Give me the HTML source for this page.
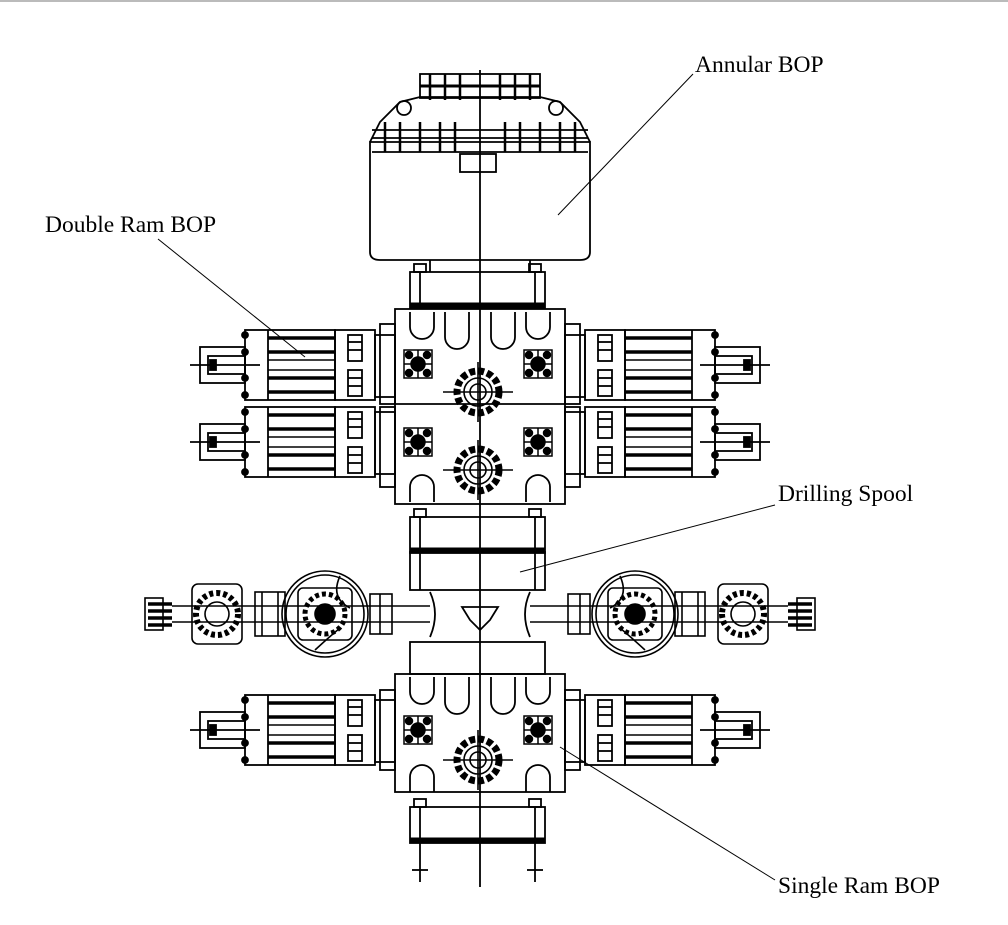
<!DOCTYPE html>
<html><head><style>
html,body{margin:0;padding:0;background:#fff;}
body{width:1008px;height:923px;overflow:hidden;position:relative;border-top:2px solid #bbb;box-sizing:border-box;}
svg{position:absolute;left:0;top:0;}
.t{font-family:"Liberation Serif",serif;font-size:23.5px;fill:#000;}
</style></head><body>
<svg width="1008" height="923" viewBox="0 0 1008 923">
<defs>
<g id="cyl" fill="none" stroke="#000" stroke-width="1.8">
  <rect x="245" y="0" width="90" height="70"/>
  <line x1="268" y1="0" x2="268" y2="70"/>
  <line x1="268" y1="8" x2="335" y2="8" stroke-width="3.5"/>
  <line x1="268" y1="22" x2="335" y2="22" stroke-width="3.5"/>
  <line x1="268" y1="30" x2="335" y2="30" stroke-width="1.5"/>
  <line x1="268" y1="40" x2="335" y2="40" stroke-width="1.5"/>
  <line x1="268" y1="48" x2="335" y2="48" stroke-width="3.5"/>
  <line x1="268" y1="62" x2="335" y2="62" stroke-width="3.5"/>
  <rect x="200" y="17" width="45" height="36"/>
  <rect x="208" y="26" width="37" height="18"/>
  <rect x="210" y="30" width="6" height="10" fill="#000"/>
  <line x1="190" y1="35" x2="260" y2="35"/>
  <rect x="335" y="0" width="40" height="70"/>
  <rect x="348" y="5" width="14" height="26"/>
  <rect x="348" y="40" width="14" height="26"/>
  <line x1="348" y1="12" x2="362" y2="12"/><line x1="348" y1="20" x2="362" y2="20"/>
  <line x1="348" y1="48" x2="362" y2="48"/><line x1="348" y1="56" x2="362" y2="56"/>
  <rect x="375" y="5" width="20" height="62"/>
  <circle cx="245" cy="5" r="3" fill="#000"/><circle cx="245" cy="22" r="3" fill="#000"/>
  <circle cx="245" cy="48" r="3" fill="#000"/><circle cx="245" cy="65" r="3" fill="#000"/>
</g>
<g id="nut" fill="none" stroke="#000" stroke-width="1.5">
  <rect x="-14" y="-14" width="28" height="28"/>
  <circle r="7" fill="#000"/>
  <line x1="-14" y1="0" x2="14" y2="0"/><line x1="0" y1="-14" x2="0" y2="14"/>
  <circle cx="-9" cy="-9" r="3.5" fill="#000"/><circle cx="9" cy="-9" r="3.5" fill="#000"/>
  <circle cx="-9" cy="9" r="3.5" fill="#000"/><circle cx="9" cy="9" r="3.5" fill="#000"/>
</g>
<g id="bore" fill="none" stroke="#000" stroke-width="1.6">
  <circle r="21" stroke-width="7" stroke-dasharray="6 3"/>
  <circle r="14"/><circle r="8"/>
  <line x1="-35" y1="0" x2="35" y2="0"/><line x1="0" y1="-30" x2="0" y2="30"/>
</g>
<g id="flange" fill="none" stroke="#000" stroke-width="1.8">
  <rect x="410" y="0" width="135" height="36"/>
  <line x1="410" y1="33" x2="545" y2="33" stroke-width="5"/>
  <line x1="420" y1="0" x2="420" y2="36"/><line x1="535" y1="0" x2="535" y2="36"/>
  <rect x="414" y="-8" width="12" height="8"/><rect x="529" y="-8" width="12" height="8"/>
</g>
<g id="side" fill="none" stroke="#000" stroke-width="1.6">
  <rect x="145" y="0" width="18" height="32"/>
  <line x1="148" y1="6" x2="172" y2="6" stroke-width="3.5"/><line x1="148" y1="13" x2="172" y2="13" stroke-width="3.5"/>
  <line x1="148" y1="20" x2="172" y2="20" stroke-width="3.5"/><line x1="148" y1="27" x2="172" y2="27" stroke-width="3.5"/>
  <rect x="192" y="-14" width="50" height="60" rx="6"/>
  <circle cx="217" cy="16" r="21" stroke-width="6" stroke-dasharray="4 3"/>
  <circle cx="217" cy="16" r="12"/>
  <line x1="172" y1="8" x2="430" y2="8"/><line x1="172" y1="24" x2="430" y2="24"/>
  <rect x="255" y="-6" width="30" height="44"/>
  <line x1="262" y1="-6" x2="262" y2="38"/><line x1="278" y1="-6" x2="278" y2="38"/>
  <circle cx="325" cy="16" r="43"/><circle cx="325" cy="16" r="39"/>
  <rect x="298" y="-10" width="54" height="52" rx="5"/>
  <circle cx="325" cy="16" r="20" stroke-width="5" stroke-dasharray="4 3"/>
  <circle cx="325" cy="16" r="10" fill="#000"/>
  <path d="M340 -22 Q330 0 350 10 M315 52 Q328 40 340 30"/>
  <rect x="370" y="-4" width="22" height="40"/>
  <line x1="380" y1="-4" x2="380" y2="36"/>
</g>
</defs>

<g fill="none" stroke="#000" stroke-width="1.8">
  <path d="M370 140 L370 250 Q370 258 380 258 L580 258 Q590 258 590 250 L590 140 Z"/>
  <path d="M370 140 L380 120 L400 100 L420 95 L540 95 L560 100 L580 120 L590 140"/>
  <line x1="372" y1="128" x2="588" y2="128"/>
  <line x1="372" y1="136" x2="588" y2="136"/>
  <line x1="372" y1="150" x2="588" y2="150"/>
  <rect x="420" y="72" width="120" height="24"/>
  <line x1="420" y1="84" x2="540" y2="84" stroke-width="3"/>
  <rect x="460" y="152" width="36" height="18"/>
  <circle cx="404" cy="106" r="7"/><circle cx="556" cy="106" r="7"/>
  <g stroke-width="2.5">
    <line x1="430" y1="72" x2="430" y2="98"/><line x1="445" y1="72" x2="445" y2="98"/><line x1="460" y1="72" x2="460" y2="98"/>
    <line x1="500" y1="72" x2="500" y2="98"/><line x1="515" y1="72" x2="515" y2="98"/><line x1="530" y1="72" x2="530" y2="98"/>
    <line x1="385" y1="120" x2="385" y2="150"/><line x1="400" y1="120" x2="400" y2="150"/><line x1="420" y1="120" x2="420" y2="150"/>
    <line x1="440" y1="120" x2="440" y2="150"/><line x1="455" y1="120" x2="455" y2="150"/><line x1="505" y1="120" x2="505" y2="150"/>
    <line x1="520" y1="120" x2="520" y2="150"/><line x1="540" y1="120" x2="540" y2="150"/><line x1="560" y1="120" x2="560" y2="150"/><line x1="575" y1="120" x2="575" y2="150"/>
  </g>
  <line x1="480" y1="68" x2="480" y2="885"/>
  <line x1="430" y1="258" x2="430" y2="270"/><line x1="530" y1="258" x2="530" y2="270"/>
  <use href="#flange" y="270"/>
  <rect x="395" y="307" width="170" height="195"/>
  <rect x="380" y="322" width="15" height="80"/><rect x="380" y="405" width="15" height="80"/>
  <rect x="565" y="322" width="15" height="80"/><rect x="565" y="405" width="15" height="80"/>
  <line x1="395" y1="402" x2="565" y2="402"/>
  <path d="M410 310 v15 a12 12 0 0 0 24 0 v-15 M445 310 v25 a12 12 0 0 0 24 0 v-25 M491 310 v25 a12 12 0 0 0 24 0 v-25 M526 310 v15 a12 12 0 0 0 24 0 v-15"/>
  <path d="M410 500 v-15 a12 12 0 0 1 24 0 v15 M526 500 v-15 a12 12 0 0 1 24 0 v15"/>
  <use href="#cyl" y="328"/><use href="#cyl" y="405"/>
  <use href="#cyl" y="328" transform="translate(960,0) scale(-1,1)"/>
  <use href="#cyl" y="405" transform="translate(960,0) scale(-1,1)"/>
  <use href="#nut" x="418" y="362"/><use href="#nut" x="538" y="362"/>
  <use href="#nut" x="418" y="440"/><use href="#nut" x="538" y="440"/>
  <use href="#bore" x="478" y="390"/><use href="#bore" x="478" y="468"/>
  <use href="#flange" y="515"/>
  <rect x="410" y="550" width="135" height="38"/>
  <line x1="420" y1="550" x2="420" y2="588"/><line x1="535" y1="550" x2="535" y2="588"/>
  <path d="M430 590 Q440 612 430 635 M530 590 Q520 612 530 635"/>
  <path d="M462 605 L498 605 L490 618 L480 628 L470 618 Z"/>
  <use href="#side" y="596"/>
  <use href="#side" y="596" transform="translate(960,0) scale(-1,1)"/>
  <rect x="410" y="640" width="135" height="32"/>
  <rect x="395" y="672" width="170" height="118"/>
  <rect x="380" y="688" width="15" height="80"/><rect x="565" y="688" width="15" height="80"/>
  <path d="M410 675 v15 a12 12 0 0 0 24 0 v-15 M445 675 v25 a12 12 0 0 0 24 0 v-25 M491 675 v25 a12 12 0 0 0 24 0 v-25 M526 675 v15 a12 12 0 0 0 24 0 v-15"/>
  <path d="M410 790 v-15 a12 12 0 0 1 24 0 v15 M526 790 v-15 a12 12 0 0 1 24 0 v15"/>
  <use href="#cyl" y="693"/>
  <use href="#cyl" y="693" transform="translate(960,0) scale(-1,1)"/>
  <use href="#nut" x="418" y="728"/><use href="#nut" x="538" y="728"/>
  <use href="#bore" x="478" y="758"/>
  <use href="#flange" y="805"/>
  <line x1="420" y1="841" x2="420" y2="880"/><line x1="535" y1="841" x2="535" y2="880"/>
  <line x1="412" y1="868" x2="428" y2="868"/><line x1="527" y1="868" x2="543" y2="868"/>
</g>

<g stroke="#000" stroke-width="1">
  <line x1="693" y1="72" x2="558" y2="213"/>
  <line x1="158" y1="237" x2="305" y2="355"/>
  <line x1="775" y1="503" x2="520" y2="570"/>
  <line x1="775" y1="878" x2="560" y2="745"/>
</g>
<text class="t" x="695" y="70">Annular BOP</text>
<text class="t" x="45" y="230">Double Ram BOP</text>
<text class="t" x="778" y="499">Drilling Spool</text>
<text class="t" x="778" y="891">Single Ram BOP</text>
</svg>
</body></html>
